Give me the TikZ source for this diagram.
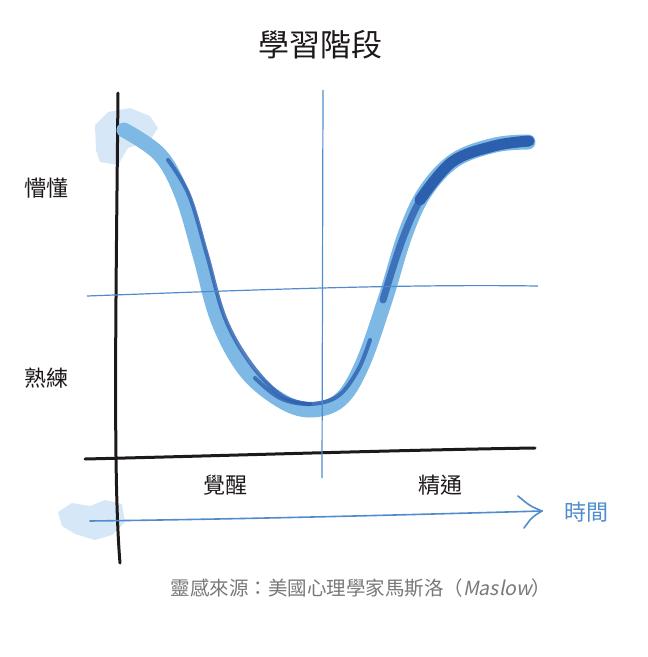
\documentclass[tikz,border=0pt]{standalone}
\usepackage{fontspec}
\usepackage{xcolor}
\usepackage{tikz}
\usetikzlibrary{arrows.meta, positioning}
\newfontfamily\cjk{Noto Sans CJK TC}
\newfontfamily\cjkslant[FakeSlant=0.2]{Noto Sans CJK TC}
\definecolor{inkblack}{RGB}{30,25,25}
\definecolor{guideblue}{RGB}{80,140,205}
\definecolor{curvelight}{RGB}{125,185,228}
\definecolor{curvedark}{RGB}{45,95,175}
\definecolor{blobblue}{RGB}{214,232,247}
\definecolor{notegray}{RGB}{120,120,120}

\begin{document}
\begin{tikzpicture}[
    x=1pt, y=-1pt,
    axis/.style={draw=inkblack, line width=3pt, line cap=round},
    guide/.style={draw=guideblue, line width=1.2pt},
    blob/.style={fill=blobblue, draw=none},
    stroke/.style={curvedark, line width=4pt, line cap=round, opacity=0.8},
    stagelabel/.style={font=\cjk\fontsize{22}{24}\selectfont, text=inkblack, inner sep=1pt},
    timelabel/.style={font=\cjk\fontsize{22}{24}\selectfont, text=guideblue, inner sep=1pt},
    harrow/.style={draw=guideblue, line width=1.6pt, line cap=round}
]
\useasboundingbox (0,0) rectangle (648,657);

% soft blobs
\fill[blob] (95,125) -- (108,112) -- (130,108) -- (150,116) -- (158,128) -- (150,140) -- (128,148) -- (118,165) -- (100,162) -- (96,150) -- cycle;
\fill[blob] (58,512) -- (72,503) -- (90,506) -- (105,500) -- (122,504) -- (125,522) -- (112,535) -- (95,540) -- (75,534) -- (62,526) -- cycle;

% axes
\draw[axis] (118,93) .. controls (116,300) and (113,480) .. (120,563);
\draw[axis] (85,459) .. controls (250,455) and (400,450) .. (535,448);

% learning curve
\draw[curvelight, line width=15pt, line cap=round] plot[smooth, tension=0.6] coordinates {
  (124,130) (160,155) (182,195) (200,255) (218,320) (245,370) (280,400) (310,410) (340,400) (362,365) (385,300) (405,235) (425,192) (455,160) (495,145) (528,142)};
\draw[stroke] plot[smooth, tension=0.6] coordinates {
  (168,160) (189,195) (207,255) (225,318) (251,364) (282,396) (310,404)};
\draw[stroke] plot[smooth, tension=0.6] coordinates {
  (255,378) (280,398) (310,404) (338,396) (358,370) (370,340)};
\draw[stroke, line width=7pt] plot[smooth, tension=0.6] coordinates {
  (383,300) (403,238) (424,194) (454,162) (494,147) (527,143)};
\draw[curvedark, line width=11pt, line cap=round] plot[smooth, tension=0.6] coordinates {
  (420,200) (452,162) (494,146) (529,141)};

% guides
\draw[guide] (87,296) .. controls (250,290) and (400,284) .. (538,286);
\draw[guide] (323,90) -- (322,478);

% time arrow
\coordinate (tstart) at (90,521);
\node[timelabel] (time) at (586,512) {時間};
\coordinate (tend) at (542,511);
\draw[harrow] (tstart) .. controls (250,519) and (400,515) .. (tend);
\draw[harrow] (tend) .. controls (530,506) .. (518,496);
\draw[harrow] (tend) .. controls (532,517) .. (524,528);

% labels
\node[font=\cjk\fontsize{31}{34}\selectfont, text=inkblack] (title) at (320,45) {學習階段};
\node[stagelabel] (confused) at (46,188) {懵懂};
\node[stagelabel] (skilled) at (46,378) {熟練};
\node[stagelabel] (awaken) at (225,485) {覺醒};
\node[stagelabel] (master) at (440,485) {精通};
\node[font=\cjk\fontsize{19.5}{22}\selectfont, text=notegray] (source) at (361,588) {靈感來源：美國心理學家馬斯洛（{\cjkslant Maslow}）};
\end{tikzpicture}
\end{document}
